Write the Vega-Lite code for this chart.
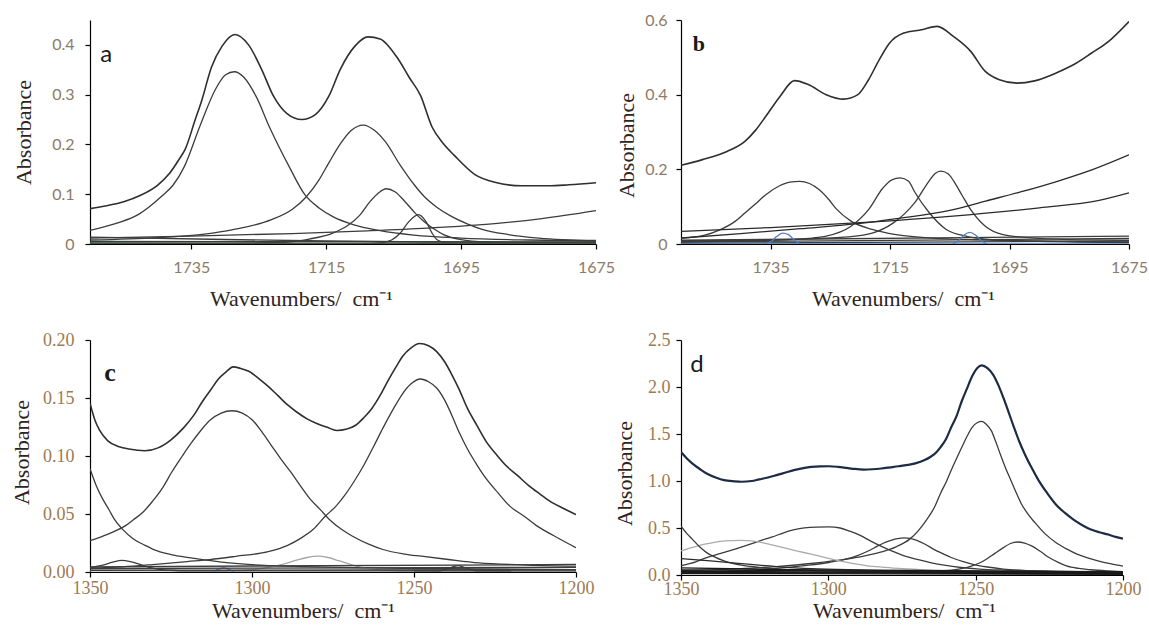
{
"$schema":"https://vega.github.io/schema/vega-lite/v6.json",
"padding":{"left":9,"top":12,"right":0,"bottom":0},
"background":"white",
"columns":2,
"bounds":"flush",
"spacing":{"row":96,"column":85},
"resolve":{"scale":{"color":"independent"}},
"config":{"view":{"stroke":null},
"axis":{"grid":false,"domainColor":"#000000","domainWidth":1.2,"tickColor":"#000000","tickWidth":1.2,"tickSize":5,"labelColor":"#8c7b68","labelFont":"Lato","labelFontSize":16,"titleFont":"Liberation Serif","titleFontSize":22,"titleFontWeight":"normal","titleColor":"#2e241c","labelFlush":false,"labelOverlap":false}},
"datasets":{
"a":[
{"s":"T","x":1750,"y":0.071},{"s":"T","x":1747.5,"y":0.077},{"s":"T","x":1745,"y":0.085},{"s":"T","x":1742.5,"y":0.098},{"s":"T","x":1740,"y":0.118},{"s":"T","x":1738.2,"y":0.142},{"s":"T","x":1736.8,"y":0.17},{"s":"T","x":1735.9,"y":0.19},{"s":"T","x":1734.4,"y":0.25},{"s":"T","x":1733.4,"y":0.29},{"s":"T","x":1732,"y":0.355},{"s":"T","x":1730.4,"y":0.398},{"s":"T","x":1728.5,"y":0.421},{"s":"T","x":1726.5,"y":0.4},{"s":"T","x":1724.6,"y":0.352},{"s":"T","x":1722.8,"y":0.297},{"s":"T","x":1720.8,"y":0.262},{"s":"T","x":1718.6,"y":0.25},{"s":"T","x":1716.6,"y":0.26},{"s":"T","x":1714.6,"y":0.297},{"s":"T","x":1712.9,"y":0.351},{"s":"T","x":1710.7,"y":0.398},{"s":"T","x":1708.8,"y":0.416},{"s":"T","x":1707,"y":0.412},{"s":"T","x":1704.4,"y":0.373},{"s":"T","x":1702.7,"y":0.335},{"s":"T","x":1701,"y":0.298},{"s":"T","x":1699.3,"y":0.235},{"s":"T","x":1697.7,"y":0.203},{"s":"T","x":1696,"y":0.178},{"s":"T","x":1693,"y":0.14},{"s":"T","x":1690,"y":0.124},{"s":"T","x":1686,"y":0.117},{"s":"T","x":1682,"y":0.117},{"s":"T","x":1679,"y":0.119},{"s":"T","x":1675,"y":0.123},
{"s":"A","x":1750,"y":0.0275},{"s":"A","x":1746,"y":0.042},{"s":"A","x":1743,"y":0.058},{"s":"A","x":1741.2,"y":0.075},{"s":"A","x":1739.3,"y":0.097},{"s":"A","x":1737.7,"y":0.118},{"s":"A","x":1736,"y":0.156},{"s":"A","x":1733.7,"y":0.237},{"s":"A","x":1731.4,"y":0.311},{"s":"A","x":1729.9,"y":0.34},{"s":"A","x":1728.6,"y":0.346},{"s":"A","x":1727.2,"y":0.335},{"s":"A","x":1725.4,"y":0.297},{"s":"A","x":1723.3,"y":0.232},{"s":"A","x":1720.5,"y":0.156},{"s":"A","x":1718.1,"y":0.098},{"s":"A","x":1716,"y":0.072},{"s":"A","x":1714,"y":0.055},{"s":"A","x":1711,"y":0.039},{"s":"A","x":1707,"y":0.027},{"s":"A","x":1702,"y":0.018},{"s":"A","x":1695,"y":0.012},{"s":"A","x":1685,"y":0.008},{"s":"A","x":1675,"y":0.006},
{"s":"B","x":1750,"y":0.008},{"s":"B","x":1740,"y":0.013},{"s":"B","x":1733,"y":0.02},{"s":"B","x":1728.8,"y":0.029},{"s":"B","x":1723.1,"y":0.049},{"s":"B","x":1720,"y":0.07},{"s":"B","x":1718,"y":0.094},{"s":"B","x":1716,"y":0.13},{"s":"B","x":1714.6,"y":0.163},{"s":"B","x":1712.8,"y":0.203},{"s":"B","x":1711.3,"y":0.228},{"s":"B","x":1709.5,"y":0.239},{"s":"B","x":1707.8,"y":0.228},{"s":"B","x":1706.2,"y":0.205},{"s":"B","x":1704,"y":0.158},{"s":"B","x":1702,"y":0.12},{"s":"B","x":1700.5,"y":0.096},{"s":"B","x":1698.5,"y":0.073},{"s":"B","x":1696.5,"y":0.056},{"s":"B","x":1694,"y":0.04},{"s":"B","x":1692,"y":0.03},{"s":"B","x":1688,"y":0.019},{"s":"B","x":1683.5,"y":0.012},{"s":"B","x":1675,"y":0.007},
{"s":"C","x":1750,"y":0.001},{"s":"C","x":1735,"y":0.001},{"s":"C","x":1722,"y":0.003},{"s":"C","x":1717.5,"y":0.01},{"s":"C","x":1714,"y":0.022},{"s":"C","x":1711.8,"y":0.037},{"s":"C","x":1710,"y":0.058},{"s":"C","x":1708.5,"y":0.085},{"s":"C","x":1707.2,"y":0.103},{"s":"C","x":1706.1,"y":0.111},{"s":"C","x":1704.8,"y":0.105},{"s":"C","x":1703.3,"y":0.085},{"s":"C","x":1701.8,"y":0.062},{"s":"C","x":1700.5,"y":0.045},{"s":"C","x":1699,"y":0.03},{"s":"C","x":1697.6,"y":0.019},{"s":"C","x":1695,"y":0.009},{"s":"C","x":1691,"y":0.004},{"s":"C","x":1685,"y":0.002},{"s":"C","x":1675,"y":0.001},
{"s":"D","x":1750,"y":0.0},{"s":"D","x":1710,"y":0.0},{"s":"D","x":1707,"y":0.002},{"s":"D","x":1705.3,"y":0.008},{"s":"D","x":1704,"y":0.022},{"s":"D","x":1702.8,"y":0.044},{"s":"D","x":1701.3,"y":0.059},{"s":"D","x":1700.2,"y":0.045},{"s":"D","x":1699.3,"y":0.022},{"s":"D","x":1698.5,"y":0.008},{"s":"D","x":1697,"y":0.002},{"s":"D","x":1694,"y":0.0},{"s":"D","x":1675,"y":0.0},
{"s":"L","x":1750,"y":0.012},{"s":"L","x":1735,"y":0.016},{"s":"L","x":1720,"y":0.021},{"s":"L","x":1710,"y":0.026},{"s":"L","x":1700,"y":0.032},{"s":"L","x":1690,"y":0.041},{"s":"L","x":1683,"y":0.051},{"s":"L","x":1675,"y":0.067},
{"s":"Z1","x":1750,"y":0.014},{"s":"Z1","x":1730,"y":0.009},{"s":"Z1","x":1715,"y":0.006},{"s":"Z1","x":1700,"y":0.004},{"s":"Z1","x":1675,"y":0.003},
{"s":"Z2","x":1750,"y":0.005},{"s":"Z2","x":1675,"y":0.004},
{"s":"Z3","x":1750,"y":0.002},{"s":"Z3","x":1675,"y":0.001}
],
"b":[
{"s":"T","x":1750,"y":0.211},{"s":"T","x":1746.4,"y":0.226},{"s":"T","x":1742.3,"y":0.248},{"s":"T","x":1739.3,"y":0.275},{"s":"T","x":1737.5,"y":0.305},{"s":"T","x":1735.8,"y":0.342},{"s":"T","x":1733.4,"y":0.396},{"s":"T","x":1731,"y":0.4375},{"s":"T","x":1728.7,"y":0.427},{"s":"T","x":1725.7,"y":0.4},{"s":"T","x":1722.8,"y":0.388},{"s":"T","x":1720.4,"y":0.4},{"s":"T","x":1718.6,"y":0.44},{"s":"T","x":1716.8,"y":0.494},{"s":"T","x":1715.1,"y":0.538},{"s":"T","x":1712.7,"y":0.565},{"s":"T","x":1709.7,"y":0.574},{"s":"T","x":1707.1,"y":0.583},{"s":"T","x":1704.4,"y":0.556},{"s":"T","x":1701.5,"y":0.516},{"s":"T","x":1699.1,"y":0.463},{"s":"T","x":1696.7,"y":0.44},{"s":"T","x":1693.8,"y":0.431},{"s":"T","x":1690.8,"y":0.437},{"s":"T","x":1687.2,"y":0.458},{"s":"T","x":1684.3,"y":0.48},{"s":"T","x":1681.3,"y":0.511},{"s":"T","x":1678.4,"y":0.543},{"s":"T","x":1675,"y":0.596},
{"s":"B1","x":1750,"y":0.016},{"s":"B1","x":1746,"y":0.024},{"s":"B1","x":1743.5,"y":0.038},{"s":"B1","x":1741,"y":0.06},{"s":"B1","x":1739.3,"y":0.083},{"s":"B1","x":1737.5,"y":0.108},{"s":"B1","x":1735.8,"y":0.132},{"s":"B1","x":1733.5,"y":0.156},{"s":"B1","x":1731.8,"y":0.166},{"s":"B1","x":1730.1,"y":0.168},{"s":"B1","x":1728.5,"y":0.162},{"s":"B1","x":1726.9,"y":0.146},{"s":"B1","x":1725.3,"y":0.12},{"s":"B1","x":1724,"y":0.094},{"s":"B1","x":1721.6,"y":0.062},{"s":"B1","x":1718,"y":0.039},{"s":"B1","x":1714,"y":0.025},{"s":"B1","x":1708,"y":0.016},{"s":"B1","x":1700,"y":0.011},{"s":"B1","x":1690,"y":0.008},{"s":"B1","x":1675,"y":0.005},
{"s":"B2","x":1750,"y":0.006},{"s":"B2","x":1735,"y":0.01},{"s":"B2","x":1728,"y":0.016},{"s":"B2","x":1725.7,"y":0.021},{"s":"B2","x":1721.6,"y":0.047},{"s":"B2","x":1718.6,"y":0.092},{"s":"B2","x":1716.2,"y":0.15},{"s":"B2","x":1714.7,"y":0.172},{"s":"B2","x":1713.3,"y":0.177},{"s":"B2","x":1711.9,"y":0.168},{"s":"B2","x":1710.9,"y":0.14},{"s":"B2","x":1708.5,"y":0.085},{"s":"B2","x":1705.6,"y":0.039},{"s":"B2","x":1702,"y":0.02},{"s":"B2","x":1699,"y":0.013},{"s":"B2","x":1690,"y":0.007},{"s":"B2","x":1675,"y":0.004},
{"s":"B3","x":1750,"y":0.008},{"s":"B3","x":1730,"y":0.013},{"s":"B3","x":1722,"y":0.019},{"s":"B3","x":1718,"y":0.029},{"s":"B3","x":1714.5,"y":0.056},{"s":"B3","x":1712.5,"y":0.082},{"s":"B3","x":1710.9,"y":0.11},{"s":"B3","x":1708.5,"y":0.168},{"s":"B3","x":1707.5,"y":0.188},{"s":"B3","x":1706.5,"y":0.195},{"s":"B3","x":1705.3,"y":0.188},{"s":"B3","x":1704.4,"y":0.17},{"s":"B3","x":1703,"y":0.132},{"s":"B3","x":1701.5,"y":0.092},{"s":"B3","x":1699.1,"y":0.048},{"s":"B3","x":1696.1,"y":0.025},{"s":"B3","x":1690.2,"y":0.015},{"s":"B3","x":1682,"y":0.011},{"s":"B3","x":1675,"y":0.01},
{"s":"L1","x":1750,"y":0.016},{"s":"L1","x":1740,"y":0.028},{"s":"L1","x":1730,"y":0.041},{"s":"L1","x":1720,"y":0.055},{"s":"L1","x":1713.9,"y":0.068},{"s":"L1","x":1705,"y":0.09},{"s":"L1","x":1699,"y":0.115},{"s":"L1","x":1693,"y":0.14},{"s":"L1","x":1687,"y":0.168},{"s":"L1","x":1681,"y":0.2},{"s":"L1","x":1675,"y":0.239},
{"s":"L2","x":1750,"y":0.034},{"s":"L2","x":1735,"y":0.044},{"s":"L2","x":1720,"y":0.057},{"s":"L2","x":1705,"y":0.074},{"s":"L2","x":1690,"y":0.097},{"s":"L2","x":1680,"y":0.117},{"s":"L2","x":1675,"y":0.137},
{"s":"Z1","x":1750,"y":0.01},{"s":"Z1","x":1675,"y":0.021},
{"s":"Z2","x":1750,"y":0.005},{"s":"Z2","x":1675,"y":0.015},
{"s":"Z3","x":1750,"y":0.002},{"s":"Z3","x":1675,"y":0.008},
{"s":"BZ","x":1750,"y":0.0},{"s":"BZ","x":1675,"y":0.0},
{"s":"BB1","x":1736,"y":0.0},{"s":"BB1","x":1734.8,"y":0.008},{"s":"BB1","x":1734,"y":0.02},{"s":"BB1","x":1733,"y":0.029},{"s":"BB1","x":1732,"y":0.025},{"s":"BB1","x":1731,"y":0.01},{"s":"BB1","x":1730,"y":0.0},
{"s":"BB2","x":1704.5,"y":0.0},{"s":"BB2","x":1703.5,"y":0.01},{"s":"BB2","x":1702.6,"y":0.024},{"s":"BB2","x":1701.7,"y":0.031},{"s":"BB2","x":1700.7,"y":0.024},{"s":"BB2","x":1699.8,"y":0.01},{"s":"BB2","x":1698.8,"y":0.0}
],
"c":[
{"s":"T","x":1350,"y":0.1455},{"s":"T","x":1348.5,"y":0.131},{"s":"T","x":1347,"y":0.122},{"s":"T","x":1344.5,"y":0.113},{"s":"T","x":1341,"y":0.108},{"s":"T","x":1338,"y":0.106},{"s":"T","x":1333,"y":0.1045},{"s":"T","x":1329,"y":0.107},{"s":"T","x":1325,"y":0.114},{"s":"T","x":1321.2,"y":0.124},{"s":"T","x":1318,"y":0.135},{"s":"T","x":1315.3,"y":0.147},{"s":"T","x":1312.5,"y":0.158},{"s":"T","x":1310.5,"y":0.166},{"s":"T","x":1308,"y":0.1725},{"s":"T","x":1305.8,"y":0.1768},{"s":"T","x":1303.5,"y":0.1755},{"s":"T","x":1301,"y":0.173},{"s":"T","x":1298,"y":0.167},{"s":"T","x":1295,"y":0.16},{"s":"T","x":1292,"y":0.152},{"s":"T","x":1289,"y":0.144},{"s":"T","x":1286,"y":0.1375},{"s":"T","x":1283,"y":0.132},{"s":"T","x":1280,"y":0.128},{"s":"T","x":1277,"y":0.125},{"s":"T","x":1273.8,"y":0.122},{"s":"T","x":1271,"y":0.123},{"s":"T","x":1268,"y":0.1265},{"s":"T","x":1265.5,"y":0.133},{"s":"T","x":1263,"y":0.141},{"s":"T","x":1260.5,"y":0.152},{"s":"T","x":1258,"y":0.165},{"s":"T","x":1255.5,"y":0.177},{"s":"T","x":1253.5,"y":0.186},{"s":"T","x":1251,"y":0.193},{"s":"T","x":1248.3,"y":0.197},{"s":"T","x":1245.5,"y":0.195},{"s":"T","x":1243,"y":0.19},{"s":"T","x":1240.5,"y":0.181},{"s":"T","x":1238.3,"y":0.17},{"s":"T","x":1236,"y":0.157},{"s":"T","x":1233.5,"y":0.141},{"s":"T","x":1230.5,"y":0.126},{"s":"T","x":1227.6,"y":0.112},{"s":"T","x":1224.5,"y":0.101},{"s":"T","x":1221.7,"y":0.092},{"s":"T","x":1218,"y":0.083},{"s":"T","x":1214.6,"y":0.0745},{"s":"T","x":1211,"y":0.067},{"s":"T","x":1207.5,"y":0.06},{"s":"T","x":1204,"y":0.055},{"s":"T","x":1200,"y":0.0495},
{"s":"C1","x":1350,"y":0.027},{"s":"C1","x":1346,"y":0.031},{"s":"C1","x":1342.5,"y":0.035},{"s":"C1","x":1339,"y":0.04},{"s":"C1","x":1336.6,"y":0.045},{"s":"C1","x":1333.5,"y":0.052},{"s":"C1","x":1330.7,"y":0.061},{"s":"C1","x":1327.5,"y":0.073},{"s":"C1","x":1324.8,"y":0.086},{"s":"C1","x":1321.5,"y":0.1},{"s":"C1","x":1318.8,"y":0.111},{"s":"C1","x":1315.8,"y":0.122},{"s":"C1","x":1312.9,"y":0.131},{"s":"C1","x":1309.5,"y":0.137},{"s":"C1","x":1306.2,"y":0.139},{"s":"C1","x":1303,"y":0.137},{"s":"C1","x":1299.9,"y":0.131},{"s":"C1","x":1297,"y":0.121},{"s":"C1","x":1294,"y":0.109},{"s":"C1","x":1291,"y":0.097},{"s":"C1","x":1288,"y":0.086},{"s":"C1","x":1285,"y":0.074},{"s":"C1","x":1282.1,"y":0.063},{"s":"C1","x":1279,"y":0.054},{"s":"C1","x":1276.2,"y":0.0455},{"s":"C1","x":1272.5,"y":0.037},{"s":"C1","x":1269.1,"y":0.031},{"s":"C1","x":1264,"y":0.024},{"s":"C1","x":1259.6,"y":0.0194},{"s":"C1","x":1253,"y":0.0155},{"s":"C1","x":1247.7,"y":0.0136},{"s":"C1","x":1240,"y":0.011},{"s":"C1","x":1230,"y":0.0078},{"s":"C1","x":1215,"y":0.006},{"s":"C1","x":1200,"y":0.005},
{"s":"C2","x":1350,"y":0.0035},{"s":"C2","x":1340,"y":0.0045},{"s":"C2","x":1330.7,"y":0.0064},{"s":"C2","x":1320,"y":0.009},{"s":"C2","x":1313,"y":0.0107},{"s":"C2","x":1305,"y":0.0135},{"s":"C2","x":1295,"y":0.0175},{"s":"C2","x":1289,"y":0.023},{"s":"C2","x":1285,"y":0.029},{"s":"C2","x":1281,"y":0.037},{"s":"C2","x":1277.4,"y":0.048},{"s":"C2","x":1274,"y":0.057},{"s":"C2","x":1271.4,"y":0.066},{"s":"C2","x":1268.5,"y":0.078},{"s":"C2","x":1265.5,"y":0.092},{"s":"C2","x":1262.5,"y":0.108},{"s":"C2","x":1259.6,"y":0.124},{"s":"C2","x":1256.5,"y":0.14},{"s":"C2","x":1253.7,"y":0.153},{"s":"C2","x":1251,"y":0.162},{"s":"C2","x":1248,"y":0.1664},{"s":"C2","x":1245.5,"y":0.164},{"s":"C2","x":1243,"y":0.1586},{"s":"C2","x":1240.5,"y":0.148},{"s":"C2","x":1238.3,"y":0.135},{"s":"C2","x":1236,"y":0.12},{"s":"C2","x":1233.5,"y":0.106},{"s":"C2","x":1230.5,"y":0.092},{"s":"C2","x":1227.6,"y":0.08},{"s":"C2","x":1224,"y":0.068},{"s":"C2","x":1220.5,"y":0.057},{"s":"C2","x":1216,"y":0.048},{"s":"C2","x":1212.2,"y":0.04},{"s":"C2","x":1206,"y":0.03},{"s":"C2","x":1200,"y":0.021},
{"s":"C3","x":1350,"y":0.089},{"s":"C3","x":1348,"y":0.074},{"s":"C3","x":1346.1,"y":0.063},{"s":"C3","x":1344,"y":0.053},{"s":"C3","x":1342.5,"y":0.0455},{"s":"C3","x":1340,"y":0.037},{"s":"C3","x":1336.6,"y":0.0285},{"s":"C3","x":1333,"y":0.023},{"s":"C3","x":1330.7,"y":0.0198},{"s":"C3","x":1325,"y":0.015},{"s":"C3","x":1318.8,"y":0.0122},{"s":"C3","x":1307,"y":0.0078},{"s":"C3","x":1290,"y":0.005},{"s":"C3","x":1250,"y":0.003},{"s":"C3","x":1200,"y":0.002},
{"s":"CG","x":1350,"y":0.001},{"s":"CG","x":1310,"y":0.001},{"s":"CG","x":1300,"y":0.002},{"s":"CG","x":1295,"y":0.004},{"s":"CG","x":1290,"y":0.007},{"s":"CG","x":1286,"y":0.0105},{"s":"CG","x":1283,"y":0.0125},{"s":"CG","x":1279.7,"y":0.0136},{"s":"CG","x":1276.5,"y":0.0125},{"s":"CG","x":1273,"y":0.0095},{"s":"CG","x":1269,"y":0.006},{"s":"CG","x":1264,"y":0.003},{"s":"CG","x":1258,"y":0.0015},{"s":"CG","x":1250,"y":0.001},{"s":"CG","x":1200,"y":0.001},
{"s":"CS","x":1350,"y":0.004},{"s":"CS","x":1346,"y":0.006},{"s":"CS","x":1343,"y":0.0085},{"s":"CS","x":1340.2,"y":0.0101},{"s":"CS","x":1337.5,"y":0.009},{"s":"CS","x":1334,"y":0.006},{"s":"CS","x":1330,"y":0.003},{"s":"CS","x":1325,"y":0.0015},{"s":"CS","x":1320,"y":0.001},{"s":"CS","x":1200,"y":0.001},
{"s":"CS2","x":1250,"y":0.001},{"s":"CS2","x":1242,"y":0.001},{"s":"CS2","x":1239.5,"y":0.003},{"s":"CS2","x":1236.5,"y":0.0055},{"s":"CS2","x":1234,"y":0.0035},{"s":"CS2","x":1231,"y":0.001},{"s":"CS2","x":1220,"y":0.001},
{"s":"CB","x":1312,"y":0.0},{"s":"CB","x":1310.3,"y":0.0025},{"s":"CB","x":1308.8,"y":0.0035},{"s":"CB","x":1307.3,"y":0.0025},{"s":"CB","x":1305.5,"y":0.0},
{"s":"Z1","x":1350,"y":0.0045},{"s":"Z1","x":1200,"y":0.0065},
{"s":"Z2","x":1350,"y":0.003},{"s":"Z2","x":1200,"y":0.004},
{"s":"Z3","x":1350,"y":0.0015},{"s":"Z3","x":1200,"y":0.002}
],
"d":[
{"s":"T","x":1350,"y":1.308},{"s":"T","x":1348,"y":1.24},{"s":"T","x":1346.1,"y":1.185},{"s":"T","x":1343.5,"y":1.125},{"s":"T","x":1341.3,"y":1.08},{"s":"T","x":1338,"y":1.035},{"s":"T","x":1335.4,"y":1.01},{"s":"T","x":1332,"y":0.997},{"s":"T","x":1329.5,"y":0.992},{"s":"T","x":1326,"y":1.0},{"s":"T","x":1323.5,"y":1.017},{"s":"T","x":1320.5,"y":1.037},{"s":"T","x":1317.6,"y":1.062},{"s":"T","x":1314.5,"y":1.09},{"s":"T","x":1311.7,"y":1.115},{"s":"T","x":1308.5,"y":1.137},{"s":"T","x":1305.8,"y":1.15},{"s":"T","x":1302.8,"y":1.156},{"s":"T","x":1299.8,"y":1.157},{"s":"T","x":1296.8,"y":1.151},{"s":"T","x":1293.9,"y":1.14},{"s":"T","x":1291,"y":1.128},{"s":"T","x":1288,"y":1.122},{"s":"T","x":1285,"y":1.125},{"s":"T","x":1282,"y":1.133},{"s":"T","x":1279,"y":1.145},{"s":"T","x":1276.1,"y":1.157},{"s":"T","x":1273,"y":1.172},{"s":"T","x":1270.2,"y":1.19},{"s":"T","x":1267.5,"y":1.22},{"s":"T","x":1265.4,"y":1.255},{"s":"T","x":1263.5,"y":1.3},{"s":"T","x":1261.9,"y":1.36},{"s":"T","x":1260,"y":1.45},{"s":"T","x":1258.3,"y":1.571},{"s":"T","x":1256.5,"y":1.69},{"s":"T","x":1254.7,"y":1.851},{"s":"T","x":1253,"y":1.98},{"s":"T","x":1251.2,"y":2.114},{"s":"T","x":1249.5,"y":2.2},{"s":"T","x":1247.9,"y":2.23},{"s":"T","x":1246,"y":2.2},{"s":"T","x":1244.1,"y":2.132},{"s":"T","x":1242.3,"y":2.02},{"s":"T","x":1240.6,"y":1.886},{"s":"T","x":1238.8,"y":1.73},{"s":"T","x":1237,"y":1.571},{"s":"T","x":1235.2,"y":1.42},{"s":"T","x":1233.4,"y":1.29},{"s":"T","x":1231,"y":1.14},{"s":"T","x":1228.7,"y":1.01},{"s":"T","x":1225.7,"y":0.87},{"s":"T","x":1222.7,"y":0.747},{"s":"T","x":1219.7,"y":0.66},{"s":"T","x":1216.8,"y":0.589},{"s":"T","x":1213.8,"y":0.53},{"s":"T","x":1210.9,"y":0.484},{"s":"T","x":1208,"y":0.455},{"s":"T","x":1205,"y":0.431},{"s":"T","x":1202.5,"y":0.405},{"s":"T","x":1200,"y":0.386},
{"s":"D1","x":1350,"y":0.046},{"s":"D1","x":1335,"y":0.06},{"s":"D1","x":1317.6,"y":0.09},{"s":"D1","x":1305,"y":0.125},{"s":"D1","x":1293.9,"y":0.168},{"s":"D1","x":1288,"y":0.2},{"s":"D1","x":1282,"y":0.245},{"s":"D1","x":1277,"y":0.3},{"s":"D1","x":1272.5,"y":0.379},{"s":"D1","x":1269.5,"y":0.47},{"s":"D1","x":1266.6,"y":0.589},{"s":"D1","x":1264,"y":0.72},{"s":"D1","x":1261.9,"y":0.87},{"s":"D1","x":1260,"y":0.99},{"s":"D1","x":1258.3,"y":1.115},{"s":"D1","x":1256.5,"y":1.24},{"s":"D1","x":1254.7,"y":1.36},{"s":"D1","x":1253,"y":1.47},{"s":"D1","x":1251.2,"y":1.571},{"s":"D1","x":1249.5,"y":1.62},{"s":"D1","x":1247.9,"y":1.634},{"s":"D1","x":1246.3,"y":1.6},{"s":"D1","x":1244.7,"y":1.536},{"s":"D1","x":1243.2,"y":1.42},{"s":"D1","x":1241.7,"y":1.29},{"s":"D1","x":1240,"y":1.15},{"s":"D1","x":1238.1,"y":1.01},{"s":"D1","x":1236.3,"y":0.88},{"s":"D1","x":1234.6,"y":0.764},{"s":"D1","x":1232.3,"y":0.65},{"s":"D1","x":1229.8,"y":0.554},{"s":"D1","x":1226.5,"y":0.44},{"s":"D1","x":1222.7,"y":0.344},{"s":"D1","x":1219,"y":0.275},{"s":"D1","x":1215.6,"y":0.222},{"s":"D1","x":1212,"y":0.182},{"s":"D1","x":1208.5,"y":0.15},{"s":"D1","x":1204,"y":0.118},{"s":"D1","x":1200,"y":0.095},
{"s":"D2","x":1350,"y":0.098},{"s":"D2","x":1345,"y":0.14},{"s":"D2","x":1341.3,"y":0.186},{"s":"D2","x":1336.5,"y":0.23},{"s":"D2","x":1331.9,"y":0.273},{"s":"D2","x":1327.5,"y":0.318},{"s":"D2","x":1323.5,"y":0.361},{"s":"D2","x":1319,"y":0.405},{"s":"D2","x":1315.2,"y":0.449},{"s":"D2","x":1311.5,"y":0.482},{"s":"D2","x":1308.1,"y":0.501},{"s":"D2","x":1304,"y":0.51},{"s":"D2","x":1299.8,"y":0.512},{"s":"D2","x":1296,"y":0.5},{"s":"D2","x":1292.7,"y":0.466},{"s":"D2","x":1289,"y":0.418},{"s":"D2","x":1285.6,"y":0.361},{"s":"D2","x":1282,"y":0.305},{"s":"D2","x":1278.5,"y":0.256},{"s":"D2","x":1274.5,"y":0.207},{"s":"D2","x":1270.2,"y":0.168},{"s":"D2","x":1265,"y":0.13},{"s":"D2","x":1260.7,"y":0.105},{"s":"D2","x":1255,"y":0.08},{"s":"D2","x":1248.8,"y":0.063},{"s":"D2","x":1240,"y":0.052},{"s":"D2","x":1228.6,"y":0.044},{"s":"D2","x":1215,"y":0.035},{"s":"D2","x":1200,"y":0.028},
{"s":"D3","x":1350,"y":0.028},{"s":"D3","x":1330,"y":0.045},{"s":"D3","x":1317.6,"y":0.07},{"s":"D3","x":1308,"y":0.1},{"s":"D3","x":1299.8,"y":0.133},{"s":"D3","x":1294.5,"y":0.165},{"s":"D3","x":1290.3,"y":0.203},{"s":"D3","x":1286.5,"y":0.255},{"s":"D3","x":1283.2,"y":0.309},{"s":"D3","x":1280.5,"y":0.35},{"s":"D3","x":1278.5,"y":0.372},{"s":"D3","x":1276.5,"y":0.388},{"s":"D3","x":1274.3,"y":0.396},{"s":"D3","x":1272.2,"y":0.39},{"s":"D3","x":1270.2,"y":0.372},{"s":"D3","x":1267,"y":0.325},{"s":"D3","x":1264.2,"y":0.273},{"s":"D3","x":1261,"y":0.225},{"s":"D3","x":1258.3,"y":0.186},{"s":"D3","x":1254.5,"y":0.145},{"s":"D3","x":1251.2,"y":0.116},{"s":"D3","x":1246,"y":0.085},{"s":"D3","x":1240.6,"y":0.063},{"s":"D3","x":1232,"y":0.047},{"s":"D3","x":1222.7,"y":0.035},{"s":"D3","x":1210,"y":0.027},{"s":"D3","x":1200,"y":0.021},
{"s":"D4","x":1350,"y":0.02},{"s":"D4","x":1300,"y":0.025},{"s":"D4","x":1280,"y":0.032},{"s":"D4","x":1270,"y":0.038},{"s":"D4","x":1262,"y":0.045},{"s":"D4","x":1258.3,"y":0.052},{"s":"D4","x":1254.5,"y":0.07},{"s":"D4","x":1251.2,"y":0.098},{"s":"D4","x":1248.5,"y":0.13},{"s":"D4","x":1246.4,"y":0.168},{"s":"D4","x":1243.5,"y":0.23},{"s":"D4","x":1240.6,"y":0.291},{"s":"D4","x":1238.2,"y":0.335},{"s":"D4","x":1235.8,"y":0.351},{"s":"D4","x":1233.4,"y":0.34},{"s":"D4","x":1231,"y":0.309},{"s":"D4","x":1228,"y":0.25},{"s":"D4","x":1225.1,"y":0.186},{"s":"D4","x":1222,"y":0.135},{"s":"D4","x":1219.2,"y":0.098},{"s":"D4","x":1215,"y":0.07},{"s":"D4","x":1210.9,"y":0.056},{"s":"D4","x":1205,"y":0.043},{"s":"D4","x":1200,"y":0.035},
{"s":"D5","x":1350,"y":0.256},{"s":"D5","x":1346.5,"y":0.29},{"s":"D5","x":1343.7,"y":0.316},{"s":"D5","x":1340,"y":0.34},{"s":"D5","x":1336.6,"y":0.358},{"s":"D5","x":1333,"y":0.366},{"s":"D5","x":1329.5,"y":0.368},{"s":"D5","x":1326,"y":0.362},{"s":"D5","x":1322.4,"y":0.344},{"s":"D5","x":1318.8,"y":0.318},{"s":"D5","x":1315.2,"y":0.291},{"s":"D5","x":1310.5,"y":0.255},{"s":"D5","x":1305.8,"y":0.221},{"s":"D5","x":1301,"y":0.185},{"s":"D5","x":1296.3,"y":0.151},{"s":"D5","x":1291.5,"y":0.122},{"s":"D5","x":1286.8,"y":0.098},{"s":"D5","x":1281,"y":0.082},{"s":"D5","x":1276.1,"y":0.07},{"s":"D5","x":1268,"y":0.057},{"s":"D5","x":1258.3,"y":0.046},{"s":"D5","x":1240,"y":0.035},{"s":"D5","x":1220,"y":0.027},{"s":"D5","x":1200,"y":0.021},
{"s":"D6","x":1350,"y":0.519},{"s":"D6","x":1348,"y":0.44},{"s":"D6","x":1346.1,"y":0.379},{"s":"D6","x":1343.7,"y":0.3},{"s":"D6","x":1341.3,"y":0.238},{"s":"D6","x":1338.5,"y":0.19},{"s":"D6","x":1335.4,"y":0.151},{"s":"D6","x":1332.5,"y":0.125},{"s":"D6","x":1329.5,"y":0.105},{"s":"D6","x":1323.5,"y":0.081},{"s":"D6","x":1317.6,"y":0.063},{"s":"D6","x":1305.8,"y":0.046},{"s":"D6","x":1282,"y":0.035},{"s":"D6","x":1250,"y":0.028},{"s":"D6","x":1200,"y":0.021},
{"s":"D7","x":1350,"y":0.175},{"s":"D7","x":1340,"y":0.15},{"s":"D7","x":1329.5,"y":0.12},{"s":"D7","x":1317.6,"y":0.09},{"s":"D7","x":1305.8,"y":0.068},{"s":"D7","x":1290,"y":0.055},{"s":"D7","x":1260,"y":0.045},{"s":"D7","x":1230,"y":0.035},{"s":"D7","x":1200,"y":0.03},
{"s":"Z1","x":1350,"y":0.075},{"s":"Z1","x":1320,"y":0.06},{"s":"Z1","x":1280,"y":0.05},{"s":"Z1","x":1240,"y":0.04},{"s":"Z1","x":1200,"y":0.035},
{"s":"Z2","x":1350,"y":0.055},{"s":"Z2","x":1200,"y":0.025},
{"s":"Z3","x":1350,"y":0.04},{"s":"Z3","x":1200,"y":0.018},
{"s":"Z4","x":1350,"y":0.028},{"s":"Z4","x":1200,"y":0.012},
{"s":"Z5","x":1350,"y":0.015},{"s":"Z5","x":1200,"y":0.008}
],
"labA":[{"t":"a","x":1747.6,"y":0.38}],
"labB":[{"t":"b","x":1747,"y":0.535}],
"labC":[{"t":"c","x":1343.8,"y":0.1716}],
"labD":[{"t":"d","x":1344.6,"y":2.234}]
},
"concat":[
{"width":506,"height":224,"data":{"name":"a"},
"encoding":{
"x":{"field":"x","type":"quantitative","scale":{"domain":[1675,1750],"reverse":true,"nice":false,"zero":false},"axis":{"values":[1735,1715,1695,1675],"format":"d","title":"Wavenumbers/\u00a0 cm⁻¹","titleX":211,"titleY":54,"titleBaseline":"middle","labelPadding":10}},
"y":{"field":"y","type":"quantitative","scale":{"domain":[0,0.45],"nice":false},"axis":{"values":[0,0.1,0.2,0.3,0.4],"labelExpr":"datum.value == 0 ? '0' : format(datum.value, '.1f')","title":"Absorbance","titleX":-67,"titleY":112,"titleBaseline":"middle","labelPadding":11}}},
"layer":[
{"transform":[{"filter":"datum.s != 'T'"}],"mark":{"type":"line","interpolate":"monotone","strokeWidth":1.3,"clip":true},"encoding":{"color":{"field":"s","type":"nominal","legend":null,"scale":{"domain":["A","B","C","D","L","Z1","Z2","Z3"],"range":["#3c3c3c","#3c3c3c","#3c3c3c","#3c3c3c","#3c3c3c","#3c3c3c","#3c3c3c","#3d5a3d"]}}}},
{"transform":[{"filter":"datum.s == 'T'"}],"mark":{"type":"line","interpolate":"monotone","strokeWidth":1.6,"color":"#2f2f2f","clip":true},"encoding":{}},
{"data":{"name":"labA"},"mark":{"type":"text","font":"Lato","fontSize":24,"color":"#1a1a1a","align":"center","baseline":"middle"},"encoding":{"text":{"field":"t","type":"nominal"}}}
]},
{"width":448,"height":224,"data":{"name":"b"},
"encoding":{
"x":{"field":"x","type":"quantitative","scale":{"domain":[1675,1750],"reverse":true,"nice":false,"zero":false},"axis":{"values":[1735,1715,1695,1675],"format":"d","title":"Wavenumbers/\u00a0 cm⁻¹","titleX":222,"titleY":54,"titleBaseline":"middle","labelPadding":10}},
"y":{"field":"y","type":"quantitative","scale":{"domain":[0,0.6],"nice":false},"axis":{"values":[0,0.2,0.4,0.6],"labelExpr":"datum.value == 0 ? '0' : format(datum.value, '.1f')","title":"Absorbance","titleX":-55,"titleY":125,"titleBaseline":"middle","labelPadding":9}}},
"layer":[
{"transform":[{"filter":"datum.s != 'T'"}],"mark":{"type":"line","interpolate":"monotone","strokeWidth":1.3,"clip":true},"encoding":{"color":{"field":"s","type":"nominal","legend":null,"scale":{"domain":["B1","B2","B3","L1","L2","Z1","Z2","Z3","BZ","BB1","BB2"],"range":["#3c3c3c","#3c3c3c","#3c3c3c","#2a2a2a","#2a2a2a","#3c3c3c","#3c3c3c","#3c3c3c","#4f7fbf","#4f7fbf","#4f7fbf"]}}}},
{"transform":[{"filter":"datum.s == 'T'"}],"mark":{"type":"line","interpolate":"monotone","strokeWidth":1.6,"color":"#2f2f2f","clip":true},"encoding":{}},
{"data":{"name":"labB"},"mark":{"type":"text","font":"Liberation Serif","fontWeight":"bold","fontSize":22,"color":"#1a1a1a","align":"center","baseline":"middle"},"encoding":{"text":{"field":"t","type":"nominal"}}}
]},
{"width":486,"height":232,"data":{"name":"c"},
"encoding":{
"x":{"field":"x","type":"quantitative","scale":{"domain":[1200,1350],"reverse":true,"nice":false,"zero":false},"axis":{"values":[1350,1300,1250,1200],"format":"d","title":"Wavenumbers/\u00a0 cm⁻¹","titleX":213,"titleY":38,"titleBaseline":"middle","labelPadding":2,"labelFont":"Liberation Serif","labelFontSize":18,"labelColor":"#9c7a52"}},
"y":{"field":"y","type":"quantitative","scale":{"domain":[0,0.2],"nice":false},"axis":{"values":[0,0.05,0.1,0.15,0.2],"format":".2f","title":"Absorbance","titleX":-69,"titleY":112,"titleBaseline":"middle","labelPadding":11,"labelFont":"Liberation Serif","labelFontSize":18,"labelColor":"#9c7a52"}}},
"layer":[
{"transform":[{"filter":"datum.s != 'T'"}],"mark":{"type":"line","interpolate":"monotone","strokeWidth":1.3,"clip":true},"encoding":{"color":{"field":"s","type":"nominal","legend":null,"scale":{"domain":["C1","C2","C3","CG","CS","CS2","CB","Z1","Z2","Z3"],"range":["#3c3c3c","#3c3c3c","#3c3c3c","#a6a6a6","#3c3c3c","#3c3c3c","#4f7fbf","#3c3c3c","#3c3c3c","#3c3c3c"]}}}},
{"transform":[{"filter":"datum.s == 'T'"}],"mark":{"type":"line","interpolate":"monotone","strokeWidth":1.6,"color":"#2f2f2f","clip":true},"encoding":{}},
{"data":{"name":"labC"},"mark":{"type":"text","font":"Liberation Serif","fontWeight":"bold","fontSize":26,"color":"#1a1a1a","align":"center","baseline":"middle"},"encoding":{"text":{"field":"t","type":"nominal"}}}
]},
{"width":442,"height":235,"data":{"name":"d"},
"encoding":{
"x":{"field":"x","type":"quantitative","scale":{"domain":[1200,1350],"reverse":true,"nice":false,"zero":false},"axis":{"values":[1350,1300,1250,1200],"format":"d","title":"Wavenumbers/\u00a0 cm⁻¹","titleX":223,"titleY":35,"titleBaseline":"middle","labelPadding":0,"labelFont":"Liberation Serif","labelFontSize":18,"labelColor":"#9c7a52"}},
"y":{"field":"y","type":"quantitative","scale":{"domain":[0,2.5],"nice":false},"axis":{"values":[0,0.5,1,1.5,2,2.5],"format":".1f","title":"Absorbance","titleX":-57,"titleY":133,"titleBaseline":"middle","labelPadding":6,"labelFont":"Liberation Serif","labelFontSize":18,"labelColor":"#9c7a52"}}},
"layer":[
{"transform":[{"filter":"datum.s != 'T'"}],"mark":{"type":"line","interpolate":"monotone","strokeWidth":1.3,"clip":true},"encoding":{"color":{"field":"s","type":"nominal","legend":null,"scale":{"domain":["D1","D2","D3","D4","D5","D6","D7","Z1","Z2","Z3","Z4","Z5"],"range":["#3c3c3c","#3c3c3c","#3c3c3c","#3c3c3c","#ababab","#3c3c3c","#2a2a2a","#1a1a1a","#1a1a1a","#1a1a1a","#1a1a1a","#1a1a1a"]}}}},
{"transform":[{"filter":"datum.s == 'T'"}],"mark":{"type":"line","interpolate":"monotone","strokeWidth":2.2,"color":"#1e2b45","clip":true},"encoding":{}},
{"data":{"name":"labD"},"mark":{"type":"text","font":"Lato","fontSize":24,"color":"#1a1a1a","align":"center","baseline":"middle"},"encoding":{"text":{"field":"t","type":"nominal"}}}
]}
]}
